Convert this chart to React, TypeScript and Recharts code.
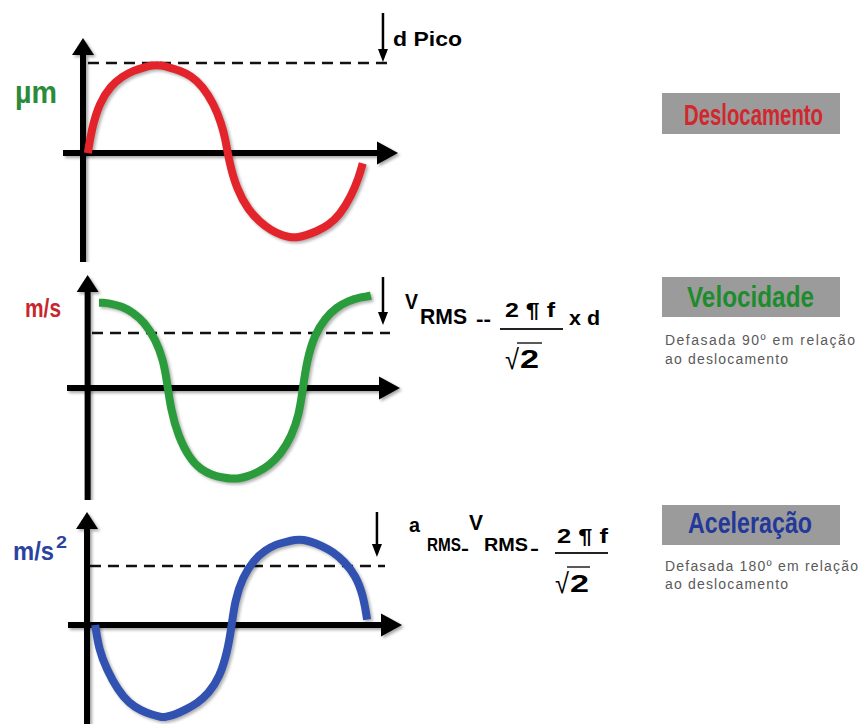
import React from 'react';
import { LineChart, Line, XAxis, YAxis, ReferenceLine } from 'recharts';

// fase (graus) e valores normalizados
const fase = [0, 5, 15, 30, 45, 60, 75, 85, 90, 95, 105, 120, 135, 150, 165, 175, 180, 185, 195, 210, 225, 240, 255, 265, 270, 275, 285, 300, 315, 330, 345, 355, 360];
const deslocamento = [0, 0.28, 0.58, 0.78, 0.89, 0.96, 1.0, 1.02, 1.02, 1.02, 1.0, 0.96, 0.9, 0.78, 0.57, 0.34, 0.17, -0.1, -0.42, -0.66, -0.8, -0.9, -0.96, -0.98, -0.98, -0.98, -0.96, -0.91, -0.84, -0.72, -0.5, -0.28, -0.12];
const velocidade = [0.97, 0.97, 0.96, 0.93, 0.86, 0.75, 0.55, 0.32, 0.08, -0.24, -0.55, -0.8, -0.93, -0.99, -1.02, -1.03, -1.03, -1.03, -1.01, -0.96, -0.88, -0.76, -0.55, -0.3, 0, 0.3, 0.6, 0.8, 0.92, 0.99, 1.03, 1.04, 1.05];
const aceleracao = [0, -0.28, -0.5, -0.74, -0.89, -0.97, -1.02, -1.04, -1.05, -1.04, -1.02, -0.96, -0.89, -0.78, -0.59, -0.3, -0.05, 0.28, 0.54, 0.74, 0.85, 0.92, 0.95, 0.97, 0.97, 0.97, 0.95, 0.9, 0.83, 0.72, 0.56, 0.33, 0.06];

const FONT = "'Liberation Sans', Arial, sans-serif";

interface Painel {
  serie: number[];
  cor: string;
  top: number;
  height: number;
  x: [number, number];
  y: [number, number];
  eixoY: number;
  eixoYTopo: number;
  eixoX: [number, number];
  tracejadoY: number;
  tracejadoX: [number, number];
  setaX: number;
  setaY: [number, number];
}

const paineis: Painel[] = [
  {
    serie: deslocamento, cor: '#e3242b', top: 0, height: 262,
    x: [-115, 435], y: [-1.267, 1.779],
    eixoY: -6.3, eixoYTopo: 1.337, eixoX: [-32.5, 406.2],
    tracejadoY: 1.047, tracejadoX: [0.2, 391.8],
    setaX: 386.5, setaY: [1.628, 1.058],
  },
  {
    serie: velocidade, cor: '#2a9c3c', top: 262, height: 238,
    x: [-131, 425], y: [-1.273, 1.432],
    eixoY: -15, eixoYTopo: 1.284, eixoX: [-42.3, 398.5],
    tracejadoY: 0.625, tracejadoX: [-9.2, 385.3],
    setaX: 376, setaY: [1.261, 0.716],
  },
  {
    serie: aceleracao, cor: '#3152b0', top: 500, height: 224,
    x: [-126, 430], y: [-1.125, 1.4205],
    eixoY: -10.8, eixoYTopo: 1.284, eixoX: [-36, 406.2],
    tracejadoY: 0.67, tracejadoX: [-6.9, 383.7],
    setaX: 373, setaY: [1.284, 0.773],
  },
];

// linha com ponta de seta no fim do segmento
const seta = (largura: number, ponta: number, abertura: number, sombra: boolean) => (p: any) => {
  const { x1, y1, x2, y2 } = p;
  const ang = Math.atan2(y2 - y1, x2 - x1);
  const c = Math.cos(ang);
  const s = Math.sin(ang);
  const bx = x2 - ponta * c;
  const by = y2 - ponta * s;
  const nx = -s * (abertura / 2);
  const ny = c * (abertura / 2);
  return (
    <g style={sombra ? { filter: 'drop-shadow(2px 2px 1.5px rgba(0,0,0,0.35))' } : undefined}>
      <line x1={x1} y1={y1} x2={bx + c} y2={by + s} stroke="#000" strokeWidth={largura} />
      <polygon points={`${x2},${y2} ${bx + nx},${by + ny} ${bx - nx},${by - ny}`} fill="#000" />
    </g>
  );
};

function Grafico({ p }: { p: Painel }) {
  const data = fase.map((f, i) => ({ fase: f, valor: p.serie[i] }));
  return (
    <div style={{ position: 'absolute', left: 0, top: p.top }}>
      <LineChart width={420} height={p.height} data={data} margin={{ top: 0, right: 0, bottom: 0, left: 0 }}>
        <XAxis dataKey="fase" type="number" domain={p.x} hide allowDataOverflow />
        <YAxis type="number" domain={p.y} hide allowDataOverflow />
        <ReferenceLine
          segment={[{ x: p.eixoY, y: p.y[0] }, { x: p.eixoY, y: p.eixoYTopo }]}
          shape={seta(6, 17, 22, true)}
          ifOverflow="visible"
        />
        <ReferenceLine
          segment={[{ x: p.eixoX[0], y: 0 }, { x: p.eixoX[1], y: 0 }]}
          shape={seta(6, 21, 23, true)}
          ifOverflow="visible"
        />
        <ReferenceLine
          segment={[{ x: p.tracejadoX[0], y: p.tracejadoY }, { x: p.tracejadoX[1], y: p.tracejadoY }]}
          stroke="#111"
          strokeWidth={2.5}
          strokeDasharray="11 7"
          ifOverflow="visible"
        />
        <ReferenceLine
          segment={[{ x: p.setaX, y: p.setaY[0] }, { x: p.setaX, y: p.setaY[1] }]}
          shape={seta(2.5, 13, 10, false)}
          ifOverflow="visible"
        />
        <Line
          dataKey="valor"
          type="basis"
          stroke={p.cor}
          strokeWidth={8}
          dot={false}
          activeDot={false}
          isAnimationActive={false}
        />
      </LineChart>
    </div>
  );
}

function T({ x, y, size, len, fill = '#000', bold = true, stretch = true, children }: any) {
  return (
    <text
      x={x}
      y={y}
      fontSize={size}
      fontWeight={bold ? 'bold' : 'normal'}
      fill={fill}
      fontFamily={FONT}
      textLength={len}
      lengthAdjust={stretch ? 'spacingAndGlyphs' : 'spacing'}
    >
      {children}
    </text>
  );
}

export default function App() {
  return (
    <div style={{ position: 'absolute', left: 0, top: 0, width: 866, height: 724, background: '#fff', overflow: 'hidden' }}>
      <style>{'.recharts-line-curve{filter:drop-shadow(2px 2px 1.5px rgba(0,0,0,0.3));stroke-linecap:butt}'}</style>
      {paineis.map((p, i) => (
        <Grafico key={i} p={p} />
      ))}
      <svg width={866} height={724} style={{ position: 'absolute', left: 0, top: 0, pointerEvents: 'none' }}>
        {/* unidades */}
        <T x={15} y={103} size={32} len={42} fill="#2b8b3b">µm</T>
        <T x={25} y={317} size={26} len={36} fill="#c8262d">m/s</T>
        <T x={13} y={560} size={26} len={41} fill="#2b43a0">m/s</T>
        <T x={56} y={548} size={17} len={11} fill="#2b43a0">2</T>

        {/* painel 1 */}
        <T x={393} y={46} size={20} len={69}>d Pico</T>

        {/* painel 2: V RMS = 2πf / √2 x d */}
        <T x={405} y={309} size={22} len={13}>V</T>
        <T x={420} y={324} size={22} len={47}>RMS</T>
        <T x={476} y={326} size={20} len={15}>--</T>
        <T x={505} y={317} size={20} len={50}>2 ¶ f</T>
        <line x1={500} y1={329} x2={563} y2={329} stroke="#222" strokeWidth={2} />
        <T x={505} y={369} size={28} len={14} bold={false}>√</T>
        <T x={520} y={368} size={25} len={19}>2</T>
        <line x1={517} y1={343} x2={542} y2={343} stroke="#222" strokeWidth={1.5} />
        <T x={569} y={325} size={20} len={31}>x d</T>

        {/* painel 3: a RMS = V RMS = 2πf / √2 */}
        <T x={409} y={532} size={20} len={11}>a</T>
        <T x={427} y={551} size={19} len={34}>RMS</T>
        <T x={461} y={555} size={18} len={8}>-</T>
        <T x={469} y={530} size={22} len={14}>V</T>
        <T x={484} y={551} size={19} len={44}>RMS</T>
        <T x={530} y={555} size={18} len={9}>-</T>
        <T x={557} y={543} size={20} len={51}>2 ¶ f</T>
        <line x1={555} y1={553} x2={608} y2={553} stroke="#222" strokeWidth={2} />
        <T x={555} y={593} size={28} len={14} bold={false}>√</T>
        <T x={570} y={592} size={24} len={19}>2</T>
        <line x1={567} y1={567} x2={590} y2={567} stroke="#222" strokeWidth={1.5} />

        {/* legendas à direita */}
        <rect x={662} y={93} width={178} height={41} fill="#9b9b9b" />
        <T x={684} y={125} size={29} len={139} fill="#d0282e">Deslocamento</T>

        <rect x={662} y={277} width={178} height={40} fill="#9b9b9b" />
        <T x={687} y={307} size={29} len={127} fill="#1e8c2e">Velocidade</T>
        <T x={665} y={345} size={14} len={190} fill="#5a5a5a" bold={false} stretch={false}>Defasada 90º em relação</T>
        <T x={665} y={364} size={14} len={123} fill="#5a5a5a" bold={false} stretch={false}>ao deslocamento</T>

        <rect x={662} y={505} width={178} height={40} fill="#9b9b9b" />
        <T x={688} y={533} size={29} len={124} fill="#23389a">Aceleração</T>
        <T x={665} y={571} size={14} len={193} fill="#5a5a5a" bold={false} stretch={false}>Defasada 180º em relação</T>
        <T x={665} y={589} size={14} len={123} fill="#5a5a5a" bold={false} stretch={false}>ao deslocamento</T>
      </svg>
    </div>
  );
}
